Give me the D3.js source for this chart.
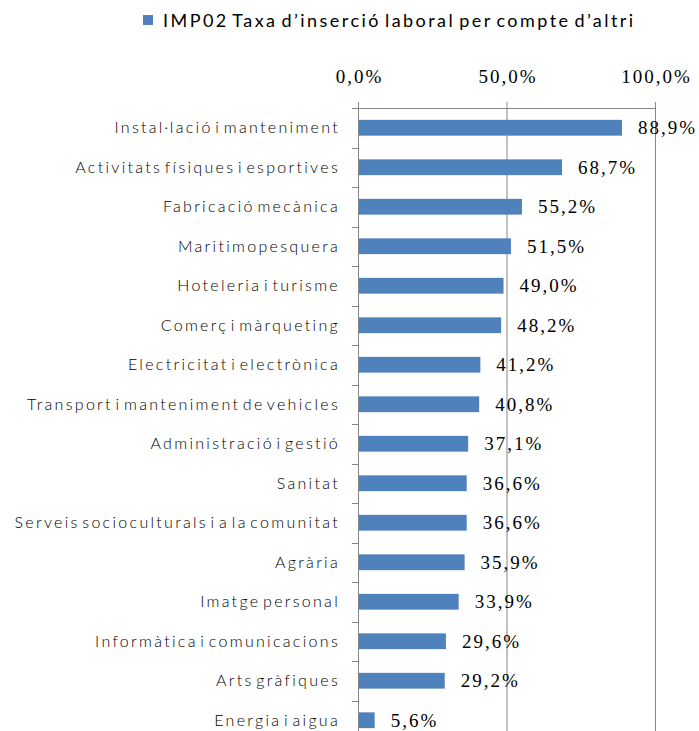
<!DOCTYPE html>
<html>
<head>
<meta charset="utf-8">
<script src="https://cdn.jsdelivr.net/npm/d3@7"></script>
<style>
  body { margin: 0; background: #fff; }
  svg { display: block; }
</style>
</head>
<body>
<script>
// chart data
var categories = [
  'Instal·lació i manteniment',
  'Activitats físiques i esportives',
  'Fabricació mecànica',
  'Maritimopesquera',
  'Hoteleria i turisme',
  'Comerç i màrqueting',
  'Electricitat i electrònica',
  'Transport i manteniment de vehicles',
  'Administració i gestió',
  'Sanitat',
  'Serveis socioculturals i a la comunitat',
  'Agrària',
  'Imatge personal',
  'Informàtica i comunicacions',
  'Arts gràfiques',
  'Energia i aigua'
]
var values = [88.9, 68.7, 55.2, 51.5, 49.0, 48.2, 41.2, 40.8, 37.1, 36.6, 36.6, 35.9, 33.9, 29.6, 29.2, 5.6]
var tickValues = [0, 50, 100]
var seriesName = 'IMP02 Taxa d\u2019inserció laboral per compte d\u2019altri'

// dimensions
var W = 699, H = 731
var margin = {top: 108, left: 358}
var plotW = 297
var bandH = 39.5

var svg = d3.select('body').append('svg')
  .attr('width', W)
  .attr('height', H)

var fmt = function(v) { return d3.format('.1f')(v).replace('.', ',') + '%' }

var xScale = d3.scaleLinear().domain([0, 100]).range([0, plotW])
var yScale = d3.scaleBand()
  .domain(categories)
  .range([0, bandH * categories.length])
  .paddingInner(0.6)
  .paddingOuter(0.3)

var g = svg.append('g')
  .attr('transform', 'translate(' + margin.left + ',' + margin.top + ')')

// gridlines
g.selectAll('.grid')
  .data(tickValues.slice(1))
  .enter().append('line')
  .attr('x1', function(d) { return xScale(d) + 0.5 })
  .attr('x2', function(d) { return xScale(d) + 0.5 })
  .attr('y1', 0)
  .attr('y2', H)
  .attr('stroke', '#868686')
  .attr('stroke-width', 1)

// top axis
var xAxis = d3.axisTop(xScale).tickValues(tickValues).tickSize(6).tickFormat(fmt)
var xg = g.append('g').call(xAxis)
xg.select('.domain').attr('stroke', '#868686').attr('d', 'M0.5,0.5H' + (plotW + 0.5))
xg.selectAll('.tick line').attr('stroke', '#868686')
xg.selectAll('.tick text')
  .attr('y', -25)
  .attr('dy', 0)
  .attr('dx', 1)
  .style('font-family', '"Liberation Serif", serif')
  .style('font-size', '19px')
  .style('letter-spacing', '2px')
  .attr('fill', '#000')

// category axis (left), ticks between categories
var bounds = d3.range(categories.length + 1).map(function(i) { return i * bandH })
g.append('line')
  .attr('x1', 0.5).attr('x2', 0.5)
  .attr('y1', 0).attr('y2', H)
  .attr('stroke', '#868686')
g.selectAll('.ytick')
  .data(bounds)
  .enter().append('line')
  .attr('x1', -6).attr('x2', 0)
  .attr('y1', function(d) { return Math.round(d) + 0.5 })
  .attr('y2', function(d) { return Math.round(d) + 0.5 })
  .attr('stroke', '#868686')

g.selectAll('.ylab')
  .data(categories)
  .enter().append('text')
  .attr('x', -18)
  .attr('y', function(d) { return yScale(d) + yScale.bandwidth() / 2 })
  .attr('dy', '0.35em')
  .attr('text-anchor', 'end')
  .style('font-family', 'Lato, sans-serif')
  .style('font-weight', 300)
  .style('font-size', '16px')
  .style('letter-spacing', '2.3px')
  .style('word-spacing', '-4px')
  .attr('fill', '#000')
  .text(function(d) { return d })

// bars
g.selectAll('.bar')
  .data(values)
  .enter().append('rect')
  .attr('x', 1)
  .attr('y', function(d, i) { return yScale(categories[i]) })
  .attr('width', function(d) { return xScale(d) - 1 })
  .attr('height', yScale.bandwidth())
  .attr('fill', '#4F81BD')

// value labels
g.selectAll('.val')
  .data(values)
  .enter().append('text')
  .attr('x', function(d) { return xScale(d) + 16 })
  .attr('y', function(d, i) { return yScale(categories[i]) + yScale.bandwidth() / 2 })
  .attr('dy', '0.35em')
  .style('font-family', '"Liberation Serif", serif')
  .style('font-size', '19px')
  .style('letter-spacing', '2px')
  .attr('fill', '#000')
  .text(fmt)

// legend
var leg = svg.append('g').attr('transform', 'translate(143,15)')
leg.append('rect').attr('width', 10).attr('height', 10).attr('fill', '#4F81BD')
leg.append('text')
  .attr('x', 20).attr('y', 12)
  .style('font-family', 'Lato, sans-serif')
  .style('font-weight', 400)
  .style('font-size', '18px')
  .style('letter-spacing', '2.45px')
  .style('word-spacing', '-3px')
  .attr('fill', '#000')
  .text(seriesName)
</script>
</body>
</html>
